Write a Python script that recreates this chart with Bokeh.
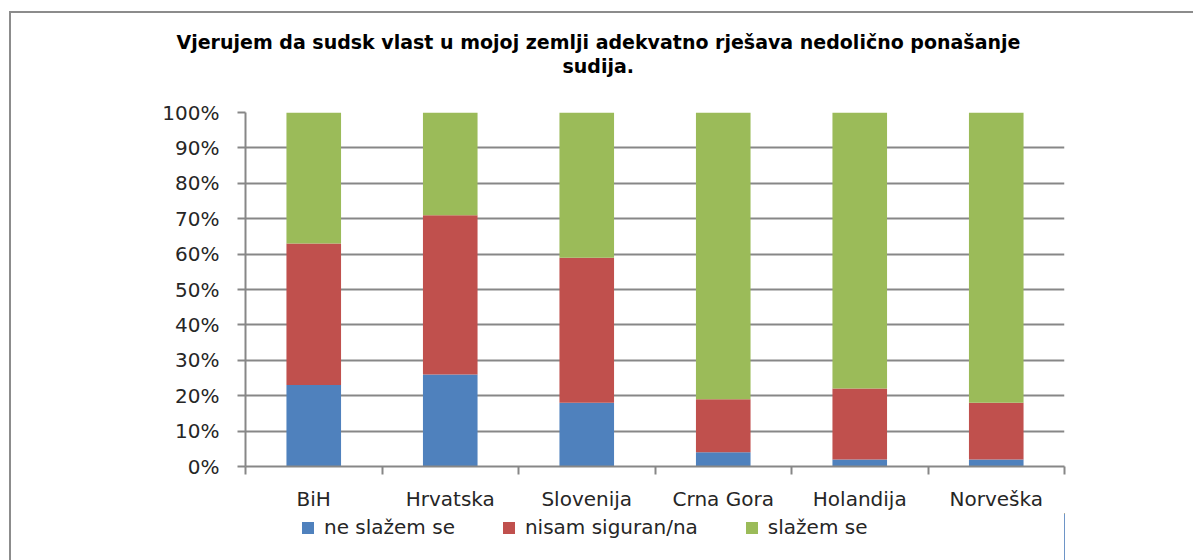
from bokeh.plotting import figure
from bokeh.layouts import column
from bokeh.models import (Range1d, FixedTicker, PrintfTickFormatter, Legend,
                          LegendItem, Title, ColumnDataSource)
from bokeh.embed import file_html
from bokeh.resources import INLINE

categories = ["BiH", "Hrvatska", "Slovenija", "Crna Gora", "Holandija", "Norveška"]
ne_slazem = [23, 26, 18, 4, 2, 2]
nisam_siguran = [40, 45, 41, 15, 20, 16]
slazem = [37, 29, 41, 81, 78, 82]
series_names = ["ne slažem se", "nisam siguran/na", "slažem se"]
colors = ["#4F81BD", "#C0504D", "#9BBB59"]
y_ticks = list(range(0, 101, 10))
title_lines = ["Vjerujem da sudsk vlast u mojoj zemlji adekvatno rješava nedolično ponašanje",
               "sudija."]

xs = [i + 0.5 for i in range(len(categories))]
source = ColumnDataSource(dict(x=xs, ne=ne_slazem, nis=nisam_siguran, sl=slazem))

GRAY = "#878787"
TXT = "#262626"
FONT = "DejaVu Sans"

p = figure(frame_width=819, frame_height=354,
           x_range=Range1d(0, len(categories)), y_range=Range1d(0, 100),
           output_backend="svg", toolbar_location=None,
           min_border_left=234, min_border_right=129, min_border_top=99, min_border_bottom=44)
p.outline_line_color = None
p.background_fill_color = "white"
p.border_fill_color = "white"

renderers = p.vbar_stack(["ne", "nis", "sl"], x="x", width=0.4, color=colors,
                         line_width=0, source=source)

# y axis
ya = p.yaxis[0]
ya.ticker = FixedTicker(ticks=y_ticks)
ya.formatter = PrintfTickFormatter(format="%d%%")
ya.major_tick_out = 8
ya.major_tick_in = 0
ya.minor_tick_out = 0
ya.minor_tick_in = 0
ya.axis_line_color = GRAY
ya.axis_line_width = 2
ya.major_tick_line_color = GRAY
ya.major_tick_line_width = 2
ya.major_label_text_font = FONT
ya.major_label_text_font_size = "20px"
ya.major_label_text_color = TXT
ya.major_label_standoff = 18

# x axis
xa = p.xaxis[0]
xa.ticker = FixedTicker(ticks=xs, minor_ticks=list(range(len(categories) + 1)))
xa.major_label_overrides = {x: c for x, c in zip(xs, categories)}
xa.major_tick_out = 0
xa.major_tick_in = 0
xa.minor_tick_out = 8
xa.minor_tick_in = 0
xa.minor_tick_line_color = GRAY
xa.minor_tick_line_width = 2
xa.axis_line_color = GRAY
xa.axis_line_width = 2
xa.major_label_text_font = FONT
xa.major_label_text_font_size = "20px"
xa.major_label_text_color = TXT
xa.major_label_standoff = 12

p.xgrid.visible = False
p.ygrid.ticker = FixedTicker(ticks=y_ticks)
p.ygrid.grid_line_color = GRAY
p.ygrid.grid_line_width = 2

# title: a thin spacer nearest the plot, then the two lines
spacer = Title(text=" ", text_font_size="1px", standoff=33)
t2 = Title(text=title_lines[1], align="left", offset=317, standoff=0,
           text_font=FONT, text_font_style="bold", text_font_size="19px", text_color="black")
t1 = Title(text=title_lines[0], align="left", offset=-69, standoff=0,
           text_font=FONT, text_font_style="bold", text_font_size="19px", text_color="black")
p.add_layout(spacer, "above")
p.add_layout(t2, "above")
p.add_layout(t1, "above")

# legend strip below the chart (key glyphs use the same data, kept outside the strip's view)
p2 = figure(width=1182, height=50, x_range=Range1d(-20, -19), y_range=Range1d(0, 1),
            x_axis_type=None, y_axis_type=None,
            output_backend="svg", toolbar_location=None,
            min_border_left=0, min_border_right=0, min_border_top=0, min_border_bottom=0)
p2.outline_line_color = None
p2.background_fill_color = "white"
p2.border_fill_color = "white"
p2.grid.visible = False
key_renderers = p2.vbar_stack(["ne", "nis", "sl"], x="x", width=0.4, color=colors,
                              line_width=0, source=source)
legend = Legend(items=[LegendItem(label=n, renderers=[r]) for n, r in zip(series_names, key_renderers)],
                orientation="horizontal", location=(55, 24),
                border_line_color=None, background_fill_alpha=0,
                label_text_font=FONT, label_text_font_size="20px", label_text_color=TXT,
                glyph_width=15, glyph_height=15, spacing=46, label_standoff=9,
                padding=0, margin=0)
p2.add_layout(legend)

layout = column(p, p2, spacing=0,
                styles={"margin-left": "9px", "margin-top": "11px",
                        "border-left": "2px solid #8c8c8c", "border-top": "2px solid #8c8c8c"})

open("out.html", "w").write(file_html(layout, INLINE))
